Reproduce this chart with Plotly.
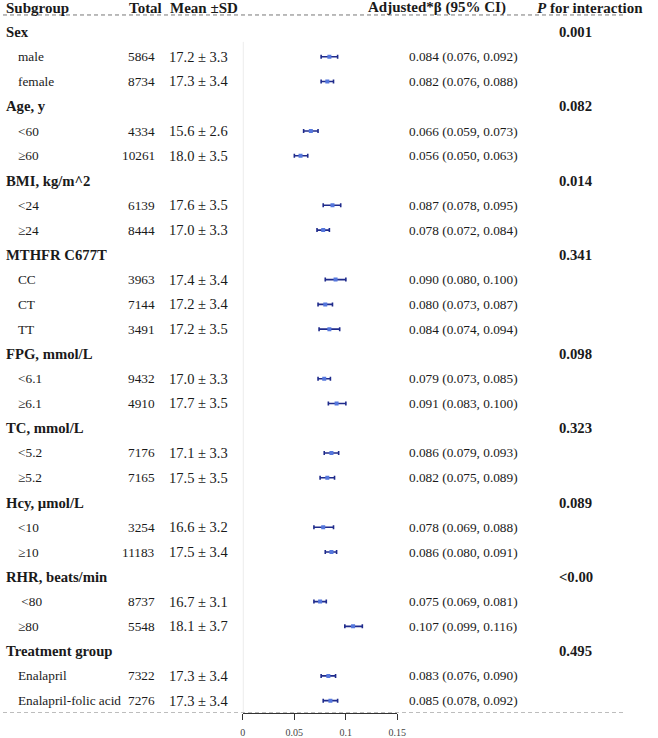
import plotly.graph_objects as go

# ---------------- data ----------------
labels = ["Sex", "male", "female",
          "Age, y", "<60", "≥60",
          "BMI, kg/m^2", "<24", "≥24",
          "MTHFR C677T", "CC", "CT", "TT",
          "FPG, mmol/L", "<6.1", "≥6.1",
          "TC, mmol/L", "<5.2", "≥5.2",
          "Hcy, µmol/L", "<10", "≥10",
          "RHR, beats/min", "\u00a0<80", "≥80",
          "Treatment group", "Enalapril", "Enalapril-folic acid"]
is_group = [1, 0, 0, 1, 0, 0, 1, 0, 0, 1, 0, 0, 0, 1, 0, 0, 1, 0, 0, 1, 0, 0, 1, 0, 0, 1, 0, 0]
totals = [None, 5864, 8734, None, 4334, 10261, None, 6139, 8444, None, 3963, 7144, 3491,
          None, 9432, 4910, None, 7176, 7165, None, 3254, 11183, None, 8737, 5548, None, 7322, 7276]
means = [None, 17.2, 17.3, None, 15.6, 18.0, None, 17.6, 17.0, None, 17.4, 17.2, 17.2,
         None, 17.0, 17.7, None, 17.1, 17.5, None, 16.6, 17.5, None, 16.7, 18.1, None, 17.3, 17.3]
sds = [None, 3.3, 3.4, None, 2.6, 3.5, None, 3.5, 3.3, None, 3.4, 3.4, 3.5,
       None, 3.3, 3.5, None, 3.3, 3.5, None, 3.2, 3.4, None, 3.1, 3.7, None, 3.4, 3.4]
beta = [None, 0.084, 0.082, None, 0.066, 0.056, None, 0.087, 0.078, None, 0.090, 0.080, 0.084,
        None, 0.079, 0.091, None, 0.086, 0.082, None, 0.078, 0.086, None, 0.075, 0.107, None, 0.083, 0.085]
ci_lo = [None, 0.076, 0.076, None, 0.059, 0.050, None, 0.078, 0.072, None, 0.080, 0.073, 0.074,
         None, 0.073, 0.083, None, 0.079, 0.075, None, 0.069, 0.080, None, 0.069, 0.099, None, 0.076, 0.078]
ci_hi = [None, 0.092, 0.088, None, 0.073, 0.063, None, 0.095, 0.084, None, 0.100, 0.087, 0.094,
         None, 0.085, 0.100, None, 0.093, 0.089, None, 0.088, 0.091, None, 0.081, 0.116, None, 0.090, 0.092]
p_interaction = [("0.001", 0), ("0.082", 3), ("0.014", 6), ("0.341", 9), ("0.098", 13),
                 ("0.323", 16), ("0.089", 19), ("<0.00", 22), ("0.495", 25)]
headers = ["Subgroup", "Total", "Mean ±SD", "Adjusted*β (95% CI)", "<i>P</i> for interaction"]
tick_vals = [0, 0.05, 0.1, 0.15]
tick_text = ["0", "0.05", "0.1", "0.15"]

# ---------------- layout constants ----------------
W, H = 658, 738
FONT = "Liberation Serif, Times New Roman, serif"
TXT = "#1a1a1a"

rows = list(range(len(labels)))
pts_y = [i for i in rows if beta[i] is not None]

fig = go.Figure()
fig.add_trace(go.Scatter(
    x=[beta[i] for i in pts_y], y=pts_y, mode="markers",
    marker=dict(symbol="square", size=4, color="#5577dd"),
    error_x=dict(type="data", symmetric=False,
                 array=[ci_hi[i] - beta[i] for i in pts_y],
                 arrayminus=[beta[i] - ci_lo[i] for i in pts_y],
                 color="#1f2b8c", thickness=1.6, width=2),
    showlegend=False, hoverinfo="skip"))

ann = []
def px(x):
    return x / W

# headers
hx = [1, 126, 168, 370, 542]
for t, x in zip(headers, hx):
    ann.append(dict(text="<b>" + t + "</b>", x=px(x), y=-0.97, xref="paper", yref="y",
                    xanchor="left", yanchor="middle", showarrow=False,
                    font=dict(family=FONT, size=15, color=TXT)))

for i in rows:
    if is_group[i]:
        ann.append(dict(text="<b>" + labels[i] + "</b>", x=px(1), y=i, xref="paper", yref="y",
                        xanchor="left", yanchor="middle", showarrow=False,
                        font=dict(family=FONT, size=14.7, color=TXT)))
    else:
        ann.append(dict(text=labels[i], x=px(13), y=i, xref="paper", yref="y",
                        xanchor="left", yanchor="middle", showarrow=False,
                        font=dict(family=FONT, size=13.3, color=TXT)))
        ann.append(dict(text=str(totals[i]), x=px(157), y=i, xref="paper", yref="y",
                        xanchor="right", yanchor="middle", showarrow=False,
                        font=dict(family=FONT, size=13.3, color=TXT)))
        ann.append(dict(text=f"{means[i]:.1f} ± {sds[i]:.1f}", x=px(167), y=i, xref="paper", yref="y",
                        xanchor="left", yanchor="middle", showarrow=False,
                        font=dict(family=FONT, size=14.5, color=TXT)))
        ann.append(dict(text=f"{beta[i]:.3f} ({ci_lo[i]:.3f}, {ci_hi[i]:.3f})", x=px(411), y=i,
                        xref="paper", yref="y", xanchor="left", yanchor="middle", showarrow=False,
                        font=dict(family=FONT, size=13.3, color=TXT)))

for t, r in p_interaction:
    ann.append(dict(text="<b>" + t + "</b>", x=px(564), y=r, xref="paper", yref="y",
                    xanchor="left", yanchor="middle", showarrow=False,
                    font=dict(family=FONT, size=14.7, color=TXT)))

y_top = -1.29
y_bot = 27.5
shapes = [
    dict(type="line", xref="paper", yref="y", x0=0, x1=px(633), y0=-0.685, y1=-0.685,
         line=dict(color="#777", width=1, dash="4px,3px")),
    dict(type="line", xref="paper", yref="y", x0=0, x1=px(633), y0=y_bot, y1=y_bot,
         line=dict(color="#777", width=1, dash="4px,3px")),
    dict(type="line", xref="x", yref="y", x0=0, x1=0, y0=0.4, y1=y_bot,
         line=dict(color="#d4d4d4", width=1), layer="below"),
]

fig.update_layout(
    width=W, height=H, margin=dict(l=0, r=0, t=0, b=0),
    paper_bgcolor="white", plot_bgcolor="white",
    annotations=ann, shapes=shapes,
    xaxis=dict(domain=[244.3 / W, 401.7 / W], range=[0, 0.15], showgrid=False, zeroline=False,
               showline=True, linecolor="#333", linewidth=1, ticks="outside", ticklen=6,
               tickcolor="#333", tickvals=tick_vals, ticktext=tick_text, ticklabelstandoff=4,
               tickfont=dict(family=FONT, size=10, color="#444")),
    yaxis=dict(domain=[(H - 714) / H, 1], range=[y_bot, y_top], visible=False,
               showgrid=False, zeroline=False),
)

fig.write_html("out.html", config={"displayModeBar": False},
               post_script="document.body.style.margin='0';document.body.style.overflow='hidden';")
